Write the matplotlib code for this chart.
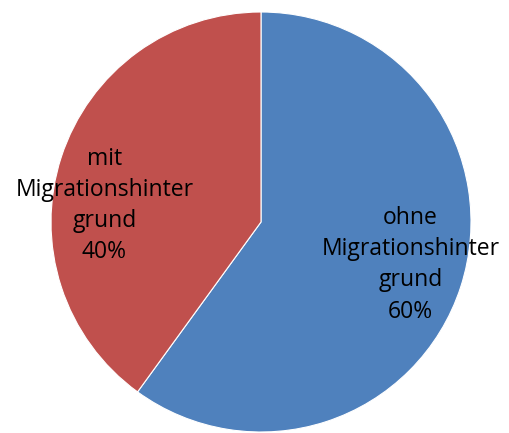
import numpy as np
import matplotlib
matplotlib.use("Agg")
from matplotlib import pyplot as plt

labels = ["ohne\nMigrationshinter\ngrund", "mit\nMigrationshinter\ngrund"]
shares = [60, 40]
colors = ["#4F81BD", "#C0504D"]

fig = plt.figure(figsize=(5.10, 4.33), dpi=100)
ax = fig.add_axes([0, 0, 1, 1])

center = (261, 211)
radius = 210
wedges, _ = ax.pie(shares, colors=colors, startangle=90, counterclock=False,
                   center=center, radius=radius, frame=True,
                   wedgeprops=dict(edgecolor="white", linewidth=0.8))
ax.set_xlim(0, 510)
ax.set_ylim(0, 433)
ax.set_aspect("equal")
ax.axis("off")

# label spots (angle in degrees, fraction of radius) picked to match the original
spots = [(-16, 0.74), (174, 0.75)]
for lab, val, (ang, frac) in zip(labels, shares, spots):
    x = center[0] + frac * radius * np.cos(np.radians(ang))
    y = center[1] + frac * radius * np.sin(np.radians(ang))
    ax.text(x, y, f"{lab}\n{val}%", ha="center", va="center", fontsize=16.5,
            family="Open Sans", linespacing=1.4, color="black")

fig.savefig("out.png", dpi=100)
